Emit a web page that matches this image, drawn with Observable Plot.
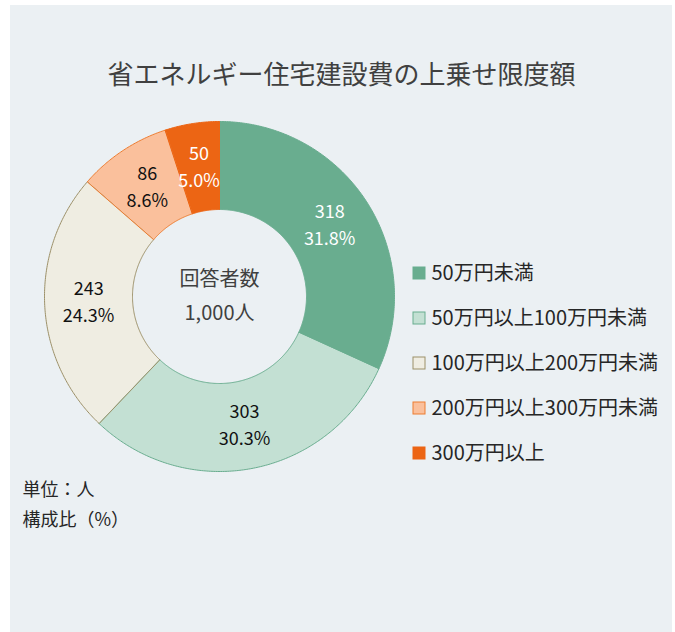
<!DOCTYPE html>
<html>
<head>
<meta charset="utf-8">
<script src="https://cdn.jsdelivr.net/npm/d3@7"></script>
<script src="https://cdn.jsdelivr.net/npm/@observablehq/plot@0.6"></script>
<style>
  html, body { margin: 0; padding: 0; background: #ffffff; }
  #wrap { position: relative; width: 675px; height: 632px; }
  #panel { position: absolute; left: 10px; top: 5px; width: 662px; height: 627px; background: #ebf0f3; }
  #chart { position: absolute; left: 0; top: 0; }
  #chart svg { font-family: "Noto Sans CJK JP", "Noto Sans", sans-serif; }
</style>
</head>
<body>
<div id="wrap"><div id="panel"></div><div id="chart"></div></div>
<script>
// ---- data ----
const categories = ["50万円未満", "50万円以上100万円未満", "100万円以上200万円未満", "200万円以上300万円未満", "300万円以上"];
const counts = [318, 303, 243, 86, 50];
const shares = ["31.8%", "30.3%", "24.3%", "8.6%", "5.0%"];
const fills = ["#69ad8f", "#c3e0d3", "#efede2", "#fac09c", "#ec6514"];
const strokes = ["#69ad8f", "#69ad8f", "#9c9068", "#ed7d31", "#ec6514"];
const labelColors = ["#ffffff", "#111111", "#111111", "#111111", "#ffffff"];
const title = "省エネルギー住宅建設費の上乗せ限度額";
const centerLines = ["回答者数", "1,000人"];
const notes = ["単位：人", "構成比（%）"];

// ---- layout ----
const W = 675, H = 632;
const cx = 219, cy = 296, R = 175, r = 87;

const pie = d3.pie().sort(null).value(d => d)(counts);
const pt = (a, rad) => [cx + rad * Math.sin(a), cy - rad * Math.cos(a)];

const slicePolys = pie.map((p, i) => {
  const pts = [];
  const n = Math.max(4, Math.ceil((p.endAngle - p.startAngle) / 0.01));
  for (let k = 0; k <= n; k++) {
    const a = p.startAngle + (p.endAngle - p.startAngle) * k / n;
    const [x, y] = pt(a, R);
    pts.push({x, y, i});
  }
  for (let k = n; k >= 0; k--) {
    const a = p.startAngle + (p.endAngle - p.startAngle) * k / n;
    const [x, y] = pt(a, r);
    pts.push({x, y, i});
  }
  return pts;
});

const labelData = pie.map((p, i) => {
  const [x, y] = pt((p.startAngle + p.endAngle) / 2, (R + r) / 2);
  return {x, y, count: String(counts[i]), share: shares[i], color: labelColors[i]};
});

const legendX = 413, legendY0 = 273, legendStep = 45, sq = 12;
const legendData = categories.map((c, i) => ({
  c, i, y: legendY0 + i * legendStep
}));

const marks = [
  ...slicePolys.map((pts, i) => Plot.line(pts, {
    x: "x", y: "y", curve: "linear-closed",
    fill: fills[i], stroke: strokes[i], strokeWidth: 1
  })),
  Plot.text(labelData, {x: "x", y: d => d.y - 13, text: "count", fill: d => d.color, fontSize: 18}),
  Plot.text(labelData, {x: "x", y: d => d.y + 14, text: "share", fill: d => d.color, fontSize: 18}),
  Plot.text([title], {x: 341, y: 75, text: d => d, fontSize: 26, fill: "#404040"}),
  Plot.text(centerLines, {x: cx, y: (d, i) => 279 + i * 34, text: d => d, fontSize: 20, fill: "#404040"}),
  Plot.rect(legendData, {
    x1: legendX, x2: legendX + sq,
    y1: d => d.y - sq / 2, y2: d => d.y + sq / 2,
    fill: d => fills[d.i], stroke: d => strokes[d.i], strokeWidth: 1
  }),
  Plot.text(legendData, {x: legendX + sq + 6, y: "y", text: "c", textAnchor: "start", fontSize: 20, fill: "#262626"}),
  Plot.text(notes, {x: 22, y: (d, i) => 490 + i * 30, text: d => d, textAnchor: "start", fontSize: 18, fill: "#262626"})
];

const chart = Plot.plot({
  width: W, height: H,
  margin: 0,
  style: {background: "transparent", overflow: "visible"},
  x: {domain: [0, W], range: [0, W], axis: null},
  y: {domain: [0, H], range: [0, H], axis: null},
  color: {type: "identity"},
  marks
});
document.getElementById("chart").appendChild(chart);
</script>
</body>
</html>
